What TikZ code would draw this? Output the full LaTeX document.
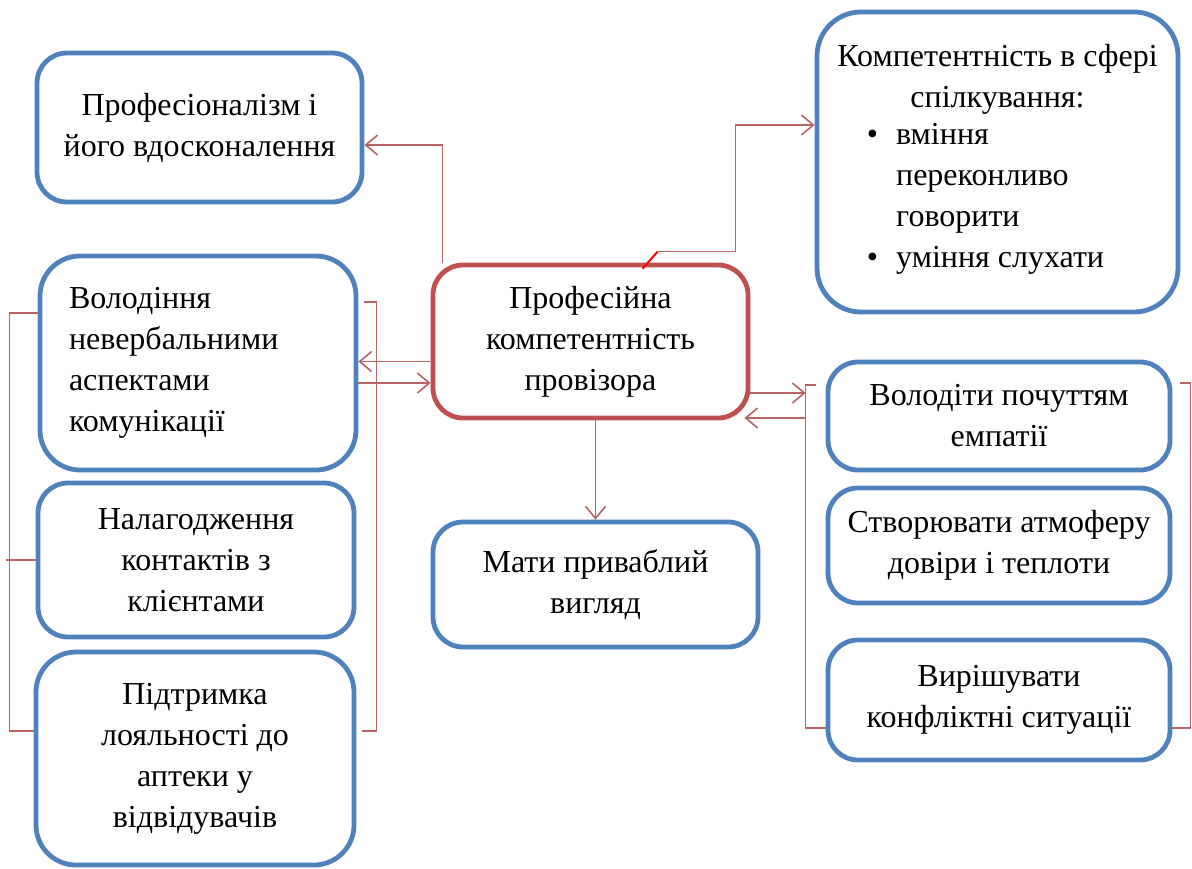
\documentclass[tikz,border=0pt]{standalone}
\usepackage{fontspec}
\newfontfamily\libser{Liberation Serif}
\usetikzlibrary{arrows.meta}
\definecolor{boxblue}{RGB}{79,129,189}
\definecolor{boxred}{RGB}{192,80,77}
\definecolor{linkred}{RGB}{185,100,100}
\begin{document}
\begin{tikzpicture}[x=0.5pt,y=-0.5pt,
  font=\libser\fontsize{16}{20.5}\selectfont,
  box/.style={draw=boxblue,line width=2.4pt,rounded corners=15pt,fill=white,align=center,inner sep=0pt},
  link/.style={draw=linkred,line width=0.8pt},
  tip/.style={-{Straight Barb[length=6pt,width=10pt]}}]
\useasboundingbox (0,0) rectangle (1192,868);

\node[box,minimum width=162.5pt,minimum height=74.5pt] (prof) at (199.5,127.5) {Професіоналізм і\\його вдосконалення};
\node[box,rounded corners=22pt,minimum width=180.5pt,minimum height=150pt] (spilk) at (997.5,162)
  {Компетентність в сфері\\спілкування:\\
   \begin{tabular}{@{}c@{\hspace{9pt}}l@{}}
   \textbullet & вміння\\
               & переконливо\\
               & говорити\\
   \textbullet & уміння слухати
   \end{tabular}\hspace*{12pt}};
\node[box,draw=boxred,minimum width=157.5pt,minimum height=76.5pt] (komp) at (590.5,341.5) {Професійна\\компетентність\\провізора};

\node[box,rounded corners=20pt,align=left,text width=129pt,minimum width=158pt,minimum height=107pt] (neverb) at (198,363) {Володіння\\невербальними\\аспектами\\комунікації};
\node[box,minimum width=158pt,minimum height=77pt] (kontakt) at (196,560) {Налагодження\\контактів з\\клієнтами};
\node[box,rounded corners=20pt,minimum width=159pt,minimum height=106.5pt] (loyal) at (195,758.5) {Підтримка\\лояльності до\\аптеки у\\відвідувачів};

\node[box,minimum width=162.5pt,minimum height=62.5pt] (vyglyad) at (595.5,584.5) {Мати приваблий\\вигляд};

\begin{scope}[minimum width=171pt,rounded corners=12pt]
\node[box,minimum height=54pt] (empat) at (999,416) {Володіти почуттям\\емпатії};
\node[box,minimum height=57.5pt] (atmos) at (999,545.5) {Створювати атмоферу\\довіри і теплоти};
\node[box,minimum height=60pt] (konfl) at (999,700) {Вирішувати\\конфліктні ситуації};
\end{scope}

\coordinate (rb) at ([xshift=-10pt]empat.west);

\begin{scope}[link]
\draw[tip] ([xshift=6pt]komp.north west) |- ([yshift=-8.75pt]prof.east);
\draw[red,line width=1pt] ([xshift=106pt,yshift=-3pt]komp.north west) -- ++(15,-17) coordinate (s);
\draw[tip] (s) -- ++(78,0) |- ([yshift=18.5pt]spilk.west);

\draw[tip] ([yshift=-10pt]komp.west) -- ([yshift=-10pt]komp.west -| neverb.east);
\draw[tip] ([yshift=-20.75pt]komp.west -| neverb.east) -- ([yshift=-20.75pt]komp.west);
\draw ([yshift=25pt]neverb.west) -| ([xshift=-12pt,yshift=13.75pt]loyal.west) -- ([yshift=13.75pt]loyal.west);
\draw ([xshift=-15pt]kontakt.west) -- (kontakt.west);
\draw ([xshift=3pt,yshift=30.5pt]neverb.east) -| ([xshift=10pt,yshift=13.75pt]loyal.east) -- ([xshift=3pt,yshift=13.75pt]loyal.east);

\draw[tip] (komp.south -| vyglyad.north) -- (vyglyad.north);

\draw[tip] ([yshift=-25.75pt]komp.east) -- ([yshift=-25.75pt]komp.east -| rb);
\draw[tip] ([yshift=-38.25pt]komp.east -| rb) -- ([xshift=-3pt,yshift=-38.25pt]komp.east);
\draw ([xshift=-5pt,yshift=15.5pt]empat.west) -| (rb) |- ([yshift=-14pt]konfl.west);
\draw ([xshift=4pt,yshift=16.5pt]empat.east) -| ([xshift=9pt,yshift=-14pt]konfl.east) -- ([yshift=-14pt]konfl.east);
\end{scope}

\end{tikzpicture}
\end{document}
